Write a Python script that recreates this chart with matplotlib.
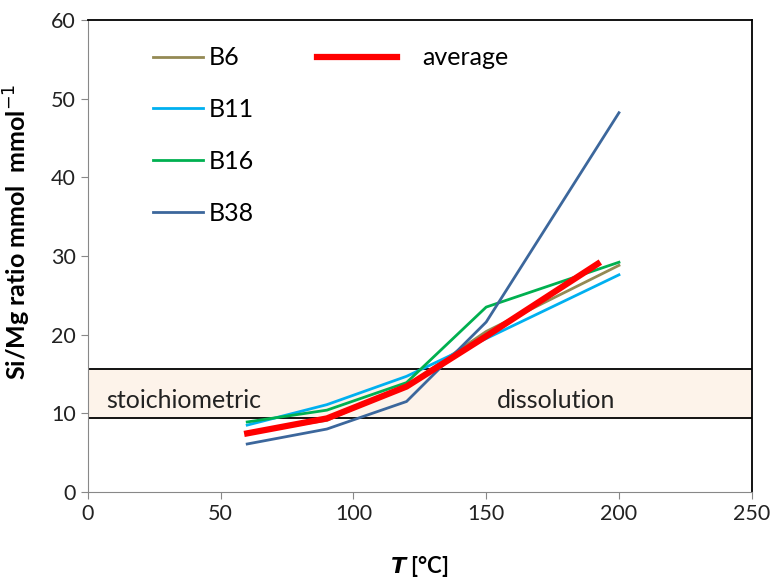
import matplotlib.pyplot as plt
from matplotlib.lines import Line2D

plt.rcParams['font.family'] = ['Lato', 'DejaVu Sans']

# temperatures [°C]
temps = [60, 90, 120, 150, 200]
b6 = [7.6, 9.1, 13.5, 20.4, 28.8]
b11 = [8.5, 11.1, 14.7, 19.5, 27.6]
b16 = [8.9, 10.4, 13.9, 23.5, 29.2]
b38 = [6.1, 8.0, 11.5, 21.6, 48.2]
avg_temps = [60, 90, 120, 150, 192]
avg = [7.45, 9.35, 13.4, 19.8, 29.0]

band_low, band_high = 9.4, 15.6

fig = plt.figure(figsize=(7.71, 5.85), dpi=100)
ax = fig.add_axes([0.114, 0.159, 0.861, 0.807])

# stoichiometric dissolution band
ax.axhspan(band_low, band_high, color='#fdf3ea', zorder=0)
ax.axhline(band_low, color='black', lw=1.3, zorder=1)
ax.axhline(band_high, color='black', lw=1.3, zorder=1)
ax.text(7, 11.6, 'stoichiometric', fontsize=18, va='center', color='#222222')
ax.text(154, 11.6, 'dissolution', fontsize=18, va='center', color='#222222')

ax.plot(temps, b6, color='#948a54', lw=2, zorder=2)
ax.plot(temps, b11, color='#00b0f0', lw=2, zorder=2)
ax.plot(temps, b16, color='#00b050', lw=2, zorder=2)
ax.plot(temps, b38, color='#3c679c', lw=2, zorder=2)
ax.plot(avg_temps, avg, color='#ff0000', lw=4.5, zorder=3)

ax.set_xlim(0, 250)
ax.set_ylim(0, 60)
ax.set_xticks(range(0, 251, 50))
ax.set_yticks(range(0, 61, 10))
ax.tick_params(labelsize=15.5, colors='#888888', labelcolor='#222222', length=5)

for s in ['left', 'bottom']:
    ax.spines[s].set_color('#888888')
for s in ['top', 'right']:
    ax.spines[s].set_color('black')
    ax.spines[s].set_linewidth(1.3)

ax.set_xlabel(r'$\boldsymbol{T}$ [°C]', fontsize=16, fontweight='bold', labelpad=22)
ax.set_ylabel('Si/Mg ratio mmol  mmol$^{-1}$', fontsize=18, fontweight='bold')
ax.yaxis.set_label_coords(-0.083, 0.55)

handles = [Line2D([], [], color=c, lw=2) for c in ['#948a54', '#00b0f0', '#00b050', '#3c679c']]
leg1 = ax.legend(handles, ['B6', 'B11', 'B16', 'B38'], loc='upper left',
                 bbox_to_anchor=(0.098, 0.944), frameon=False, fontsize=18,
                 borderaxespad=0, borderpad=0,
                 handlelength=2.0, handletextpad=0.25, labelspacing=1.15)
ax.add_artist(leg1)
ax.legend([Line2D([], [], color='#ff0000', lw=4.5)], ['average'], loc='upper left',
          bbox_to_anchor=(0.345, 0.944), frameon=False, fontsize=18,
          borderaxespad=0, borderpad=0,
          handlelength=3.2, handletextpad=1.0)

fig.savefig('out.png', dpi=100)
